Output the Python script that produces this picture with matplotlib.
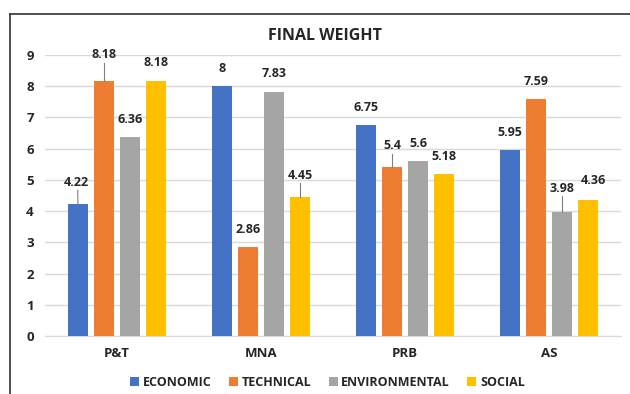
import numpy as np
import matplotlib.pyplot as plt
from matplotlib.lines import Line2D

categories = ['P&T', 'MNA', 'PRB', 'AS']
series_names = ['ECONOMIC', 'TECHNICAL', 'ENVIRONMENTAL', 'SOCIAL']
economic = [4.22, 8, 6.75, 5.95]
technical = [8.18, 2.86, 5.4, 7.59]
environmental = [6.36, 7.83, 5.6, 3.98]
social = [8.18, 4.45, 5.18, 4.36]
value_labels = [['4.22', '8', '6.75', '5.95'],
                ['8.18', '2.86', '5.4', '7.59'],
                ['6.36', '7.83', '5.6', '3.98'],
                ['8.18', '4.45', '5.18', '4.36']]

colors = ['#4472C4', '#ED7D31', '#A5A5A5', '#FFC000']
# label offsets in points (dx, dy) and whether a leader line is drawn
label_style = {(0, 0): (-1, 11, True), (1, 0): (0, 14, True), (3, 1): (0, 11, True),
               (1, 2): (0, 11, True), (2, 3): (0, 12, True), (3, 3): (4, 9, False)}

plt.rcParams['font.family'] = ['Open Sans', 'DejaVu Sans']
txt = '#262626'

fig = plt.figure(figsize=(6.3, 3.94), dpi=100)
ax = fig.add_axes([0.0714, 0.1472, 0.9143, 0.7132])

x = np.arange(len(categories))
step = 0.1806
width = 0.139
all_series = [economic, technical, environmental, social]
for i, vals in enumerate(all_series):
    pos = x + (i - 1.5) * step
    ax.bar(pos, vals, width, color=colors[i], label=series_names[i], zorder=3)
    for j, v in enumerate(vals):
        dx, dy, lead = label_style.get((i, j), (0, 8, False))
        ax.annotate(value_labels[i][j], (pos[j], v), xytext=(dx, dy),
                    textcoords='offset points', ha='center', va='bottom',
                    fontsize=9, fontweight='bold', color=txt, zorder=4)
        if lead:
            # short grey leader line from the bar top up to the label
            ax.plot([pos[j], pos[j] + dx * 0.002], [v, v + (dy - 1) / 72 * 100 / 31.2],
                    color='#7f7f7f', lw=0.8, zorder=4)

ax.set_xlim(-0.5, 3.5)
ax.set_ylim(0, 9)
ax.set_yticks(range(0, 10))
ax.set_xticks(x)
ax.set_xticklabels(categories)
ax.tick_params(length=0, labelsize=9.5, colors=txt, pad=8)
for lab in ax.get_xticklabels() + ax.get_yticklabels():
    lab.set_fontweight('bold')
ax.grid(axis='y', color='#d9d9d9', lw=1, zorder=0)
for s in ['top', 'right', 'left']:
    ax.spines[s].set_visible(False)
ax.spines['bottom'].set_color('#d9d9d9')

fig.text(0.516, 0.908, 'FINAL WEIGHT', ha='center', va='center',
         fontsize=11.5, fontweight='bold', color=txt)

leg = fig.legend(loc='center', bbox_to_anchor=(0.52, 0.03), ncol=4, frameon=False,
                 prop={'size': 9, 'weight': 'bold'}, handlelength=0.7,
                 handleheight=0.7, handletextpad=0.3, columnspacing=1.4)
for t in leg.get_texts():
    t.set_color(txt)

# outer frame (cropped box)
fig.add_artist(Line2D([10 / 630, 1], [1 - 14 / 394, 1 - 14 / 394], color='#404040', lw=1.3))
fig.add_artist(Line2D([10 / 630, 10 / 630], [0, 1 - 14 / 394], color='#404040', lw=1.3))

plt.savefig('out.png')
